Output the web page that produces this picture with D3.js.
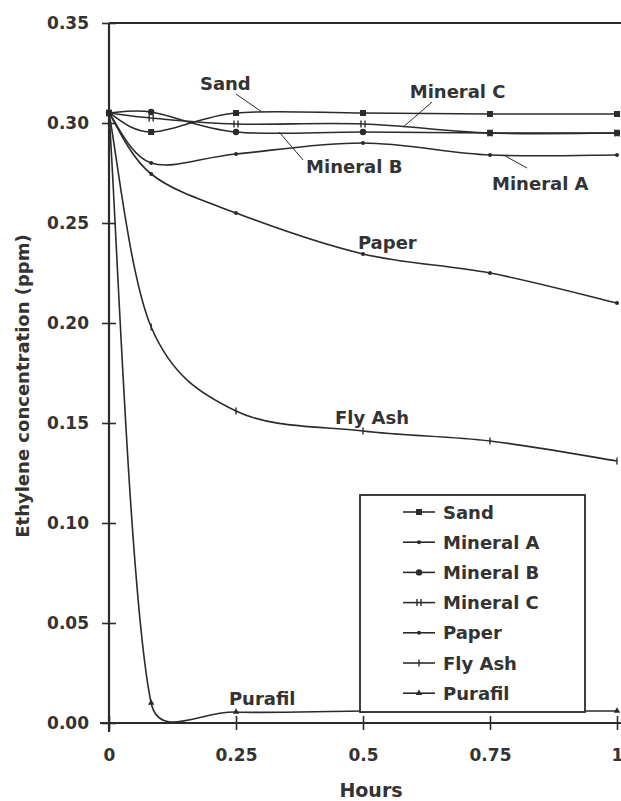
<!DOCTYPE html>
<html>
<head>
<meta charset="utf-8">
<script src="https://cdn.jsdelivr.net/npm/d3@7"></script>
<style>
  body { margin: 0; background: #fff; }
  text { font-family: "DejaVu Sans", sans-serif; font-weight: bold; fill: #333; }
</style>
</head>
<body>
<script>
// sampling times (hours) and the measured concentrations (ppm)
var hours = [0, 0.083, 0.25, 0.5, 0.75, 1];
var sand = [0.305, 0.2955, 0.305, 0.305, 0.3045, 0.3045];
var mineralA = [0.305, 0.28, 0.2845, 0.29, 0.284, 0.284];
var mineralB = [0.305, 0.3055, 0.2955, 0.2955, 0.295, 0.295];
var mineralC = [0.305, 0.3025, 0.2995, 0.2995, 0.295, 0.295];
var paper = [0.305, 0.2745, 0.255, 0.2345, 0.225, 0.21];
var flyAsh = [0.305, 0.198, 0.156, 0.146, 0.141, 0.131];
var purafil = [0.305, 0.01, 0.0055, 0.006, 0.006, 0.006];

var seriesNames = ["Sand", "Mineral A", "Mineral B", "Mineral C", "Paper", "Fly Ash", "Purafil"];
var seriesValues = [sand, mineralA, mineralB, mineralC, paper, flyAsh, purafil];
var markerKinds = ["square", "dot", "circle", "bars", "dot", "plus", "triangle"];

var xTicks = [0, 0.25, 0.5, 0.75, 1];
var xTickLabels = ["0", "0.25", "0.5", "0.75", "1"];
var yTicks = [0, 0.05, 0.1, 0.15, 0.2, 0.25, 0.3, 0.35];

// labels written on the plot: text, anchor point (hours, ppm), leader line from/to
var notes = [
  { text: "Sand", x: 0.179, y: 0.3165, line: [[0.25, 0.3145], [0.301, 0.3055]] },
  { text: "Mineral C", x: 0.592, y: 0.3125, line: [[0.636, 0.3105], [0.579, 0.298]] },
  { text: "Mineral B", x: 0.388, y: 0.275, line: [[0.382, 0.2815], [0.335, 0.2955]] },
  { text: "Mineral A", x: 0.754, y: 0.2665, line: [[0.823, 0.2775], [0.78, 0.2835]] },
  { text: "Paper", x: 0.49, y: 0.237, line: null },
  { text: "Fly Ash", x: 0.445, y: 0.1495, line: null },
  { text: "Purafil", x: 0.236, y: 0.009, line: null }
];

var W = 621, H = 801;
var ink = "#2b2b2b";

// spreadsheet-style smoothing: catmull-rom tangents, handles clamped to the segment
// so a short segment after a steep drop only overshoots a little.
function SmoothCurve(context) { this._context = context; }
SmoothCurve.prototype = {
  areaStart: function () {}, areaEnd: function () {},
  lineStart: function () { this._pts = []; },
  point: function (x, y) { this._pts.push([+x, +y]); },
  lineEnd: function () {
    var p = this._pts, c = this._context, n = p.length;
    if (!n) return;
    c.moveTo(p[0][0], p[0][1]);
    function tangent(i) {
      var a = p[Math.max(i - 1, 0)], b = p[Math.min(i + 1, n - 1)];
      return [(b[0] - a[0]) / 6, (b[1] - a[1]) / 6];
    }
    function clamp(t, a, b) {
      var len = Math.hypot(t[0], t[1]), seg = Math.hypot(b[0] - a[0], b[1] - a[1]) * 0.45;
      return len > seg && len > 0 ? [t[0] * seg / len, t[1] * seg / len] : t;
    }
    for (var i = 0; i < n - 1; i++) {
      var t0 = clamp(tangent(i), p[i], p[i + 1]);
      var t1 = clamp(tangent(i + 1), p[i], p[i + 1]);
      c.bezierCurveTo(p[i][0] + t0[0], p[i][1] + t0[1],
        p[i + 1][0] - t1[0], p[i + 1][1] - t1[1], p[i + 1][0], p[i + 1][1]);
    }
  }
};
function smooth(context) { return new SmoothCurve(context); }

var svg = d3.select("body").append("svg")
  .attr("width", W).attr("height", H);

var x = d3.scaleLinear().domain([0, 1]).range([109, 617]);
var y = d3.scaleLinear().domain([0, 0.35]).range([723, 23]);

// frame: top border runs off the right edge
svg.append("line")
  .attr("x1", x(0)).attr("x2", W)
  .attr("y1", y(0.35)).attr("y2", y(0.35))
  .attr("stroke", ink).attr("stroke-width", 2);

var line = d3.line()
  .x(function (d) { return x(d[0]); })
  .y(function (d) { return y(d[1]); })
  .curve(smooth);

function drawMarker(g, kind, cx, cy) {
  if (kind === "square") {
    g.append("rect").attr("x", cx - 3).attr("y", cy - 3).attr("width", 6).attr("height", 6).attr("fill", ink);
  } else if (kind === "circle") {
    g.append("circle").attr("cx", cx).attr("cy", cy).attr("r", 3.2).attr("fill", ink);
  } else if (kind === "dot") {
    g.append("circle").attr("cx", cx).attr("cy", cy).attr("r", 2).attr("fill", ink);
  } else if (kind === "bars") {
    [-2, 2].forEach(function (o) {
      g.append("line").attr("x1", cx + o).attr("x2", cx + o).attr("y1", cy - 3.5).attr("y2", cy + 3.5)
        .attr("stroke", ink).attr("stroke-width", 1.4);
    });
  } else if (kind === "plus") {
    g.append("line").attr("x1", cx).attr("x2", cx).attr("y1", cy - 3.5).attr("y2", cy + 3.5)
      .attr("stroke", ink).attr("stroke-width", 1.4);
  } else if (kind === "triangle") {
    g.append("path").attr("d", d3.symbol(d3.symbolTriangle, 18)()).attr("transform", "translate(" + cx + "," + cy + ")")
      .attr("fill", ink);
  }
}

// series
seriesValues.forEach(function (vals, i) {
  var pts = hours.map(function (h, j) { return [h, vals[j]]; });
  var g = svg.append("g");
  g.append("path").attr("d", line(pts))
    .attr("fill", "none").attr("stroke", ink).attr("stroke-width", 1.6);
  pts.forEach(function (p) { drawMarker(g, markerKinds[i], x(p[0]), y(p[1])); });
});

// axes
var yAxis = svg.append("g").attr("transform", "translate(" + x(0) + ",0)")
  .call(d3.axisLeft(y).tickValues(yTicks).tickFormat(d3.format(".2f")).tickSize(7).tickPadding(13));
yAxis.select(".domain").remove();
yAxis.selectAll(".tick line").attr("x1", -7).attr("x2", 7).attr("stroke", ink).attr("stroke-width", 1.6);
yAxis.selectAll(".tick text").attr("font-size", 17).attr("font-family", null).attr("fill", "#333");
svg.append("line").attr("x1", x(0)).attr("x2", x(0)).attr("y1", y(0.35)).attr("y2", y(0) + 9)
  .attr("stroke", ink).attr("stroke-width", 2.2);

var xAxis = svg.append("g").attr("transform", "translate(0," + y(0) + ")")
  .call(d3.axisBottom(x).tickValues(xTicks).tickFormat(function (d, i) { return xTickLabels[i]; })
    .tickSize(7).tickPadding(19));
xAxis.select(".domain").remove();
xAxis.selectAll(".tick line").attr("y1", -7).attr("y2", 7).attr("stroke", ink).attr("stroke-width", 1.6);
xAxis.selectAll(".tick text").attr("font-size", 17).attr("font-family", null).attr("fill", "#333");
svg.append("line").attr("x1", x(0) - 9).attr("x2", W).attr("y1", y(0)).attr("y2", y(0))
  .attr("stroke", ink).attr("stroke-width", 2.2);

// axis titles
svg.append("text").attr("x", (x(0) + x(1)) / 2 + 8).attr("y", 797)
  .attr("text-anchor", "middle").attr("font-size", 19).text("Hours");
svg.append("text").attr("transform", "translate(29,386) rotate(-90)")
  .attr("text-anchor", "middle").attr("font-size", 18).text("Ethylene concentration (ppm)");

// labels on the plot
notes.forEach(function (n) {
  svg.append("text").attr("x", x(n.x)).attr("y", y(n.y)).attr("font-size", 18).text(n.text);
  if (n.line) {
    svg.append("line")
      .attr("x1", x(n.line[0][0])).attr("y1", y(n.line[0][1]))
      .attr("x2", x(n.line[1][0])).attr("y2", y(n.line[1][1]))
      .attr("stroke", ink).attr("stroke-width", 1);
  }
});

// legend
var legend = svg.append("g");
legend.append("rect").attr("x", 360).attr("y", 495).attr("width", 225).attr("height", 217)
  .attr("fill", "#fff").attr("stroke", ink).attr("stroke-width", 1.8);
seriesNames.forEach(function (name, i) {
  var ly = 512 + i * 30.2;
  legend.append("line").attr("x1", 403).attr("x2", 435).attr("y1", ly).attr("y2", ly)
    .attr("stroke", ink).attr("stroke-width", 1.6);
  drawMarker(legend, markerKinds[i], 419, ly);
  legend.append("text").attr("x", 443).attr("y", ly + 6.5).attr("font-size", 18).text(name);
});
</script>
</body>
</html>
